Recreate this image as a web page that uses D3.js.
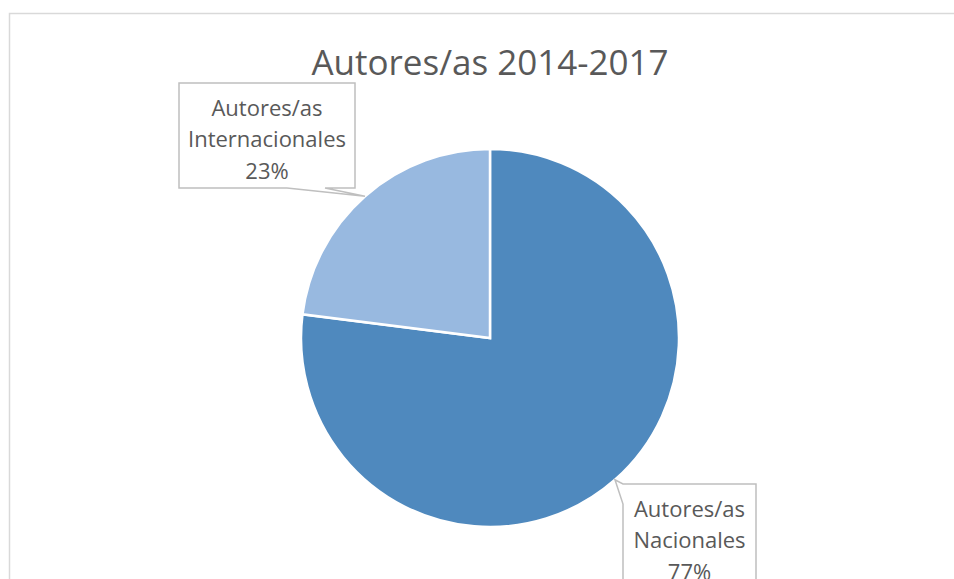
<!DOCTYPE html>
<html>
<head>
<meta charset="utf-8">
<script src="https://cdn.jsdelivr.net/npm/d3@7"></script>
<style>
html,body{margin:0;padding:0;background:#fff;}
svg{display:block;}
</style>
</head>
<body>
<svg id="chart" width="954" height="579"></svg>
<script>
const title = "Autores/as 2014-2017";
const categories = ["Autores/as Nacionales", "Autores/as Internacionales"];
const labelLines = [["Autores/as", "Nacionales"], ["Autores/as", "Internacionales"]];
const values = [77, 23];
const colors = ["#4F89BE", "#98B9E0"];

const W = 954, H = 579;
const svg = d3.select("#chart");
const font = "'Segoe UI', 'Open Sans', sans-serif";

// chart area border
svg.append("rect").attr("x", 9.5).attr("y", 13.5).attr("width", 960).attr("height", 600)
  .attr("fill", "#fff").attr("stroke", "#d9d9d9").attr("stroke-width", 1.5);

svg.append("text").attr("x", 490).attr("y", 75).attr("text-anchor", "middle")
  .attr("font-family", font).attr("font-size", 35).attr("fill", "#595959").text(title);

const cx = 490, cy = 338, r = 189;
const g = svg.append("g").attr("transform", `translate(${cx},${cy})`);
const pie = d3.pie().sort(null).value(d => d)(values);
const arc = d3.arc().innerRadius(0).outerRadius(r);

g.selectAll("path.slice").data(pie).enter().append("path")
  .attr("class", "slice").attr("d", arc)
  .attr("fill", (d, i) => colors[i]).attr("stroke", "#fff").attr("stroke-width", 2.5)
  .attr("stroke-linejoin", "miter");

// callout boxes (layout)
const boxes = [
  {x: 623, y: 484, w: 133, h: 120, side: "left", a: 484, b: 504},
  {x: 179, y: 83, w: 176, h: 105, side: "bottom", a: 287, b: 325}
];
const fmt = v => Math.round(v / d3.sum(values) * 100) + "%";

pie.forEach((d, i) => {
  const bx = boxes[i];
  const mid = (d.startAngle + d.endAngle) / 2;
  const tx = cx + r * Math.sin(mid), ty = cy - r * Math.cos(mid);
  let p;
  if (bx.side === "left") {
    p = [[bx.x, bx.y], [bx.x + bx.w, bx.y], [bx.x + bx.w, bx.y + bx.h], [bx.x, bx.y + bx.h],
         [bx.x, bx.b], [tx, ty], [bx.x, bx.a]];
  } else {
    p = [[bx.x, bx.y], [bx.x + bx.w, bx.y], [bx.x + bx.w, bx.y + bx.h], [bx.b, bx.y + bx.h],
         [tx, ty], [bx.a, bx.y + bx.h], [bx.x, bx.y + bx.h]];
  }
  svg.append("path").attr("d", "M" + p.map(q => q.join(",")).join("L") + "Z")
    .attr("fill", "#fff").attr("stroke", "#bfbfbf").attr("stroke-width", 1.5)
    .attr("stroke-linejoin", "miter");
  const lines = labelLines[i].concat([fmt(d.value)]);
  const tc = bx.x + bx.w / 2;
  const t = svg.append("text").attr("font-family", font).attr("font-size", 22)
    .attr("fill", "#595959").attr("text-anchor", "middle");
  lines.forEach((ln, k) => {
    t.append("tspan").attr("x", tc).attr("y", bx.y + 32.5 + k * 31.5).text(ln);
  });
});
</script>
</body>
</html>
